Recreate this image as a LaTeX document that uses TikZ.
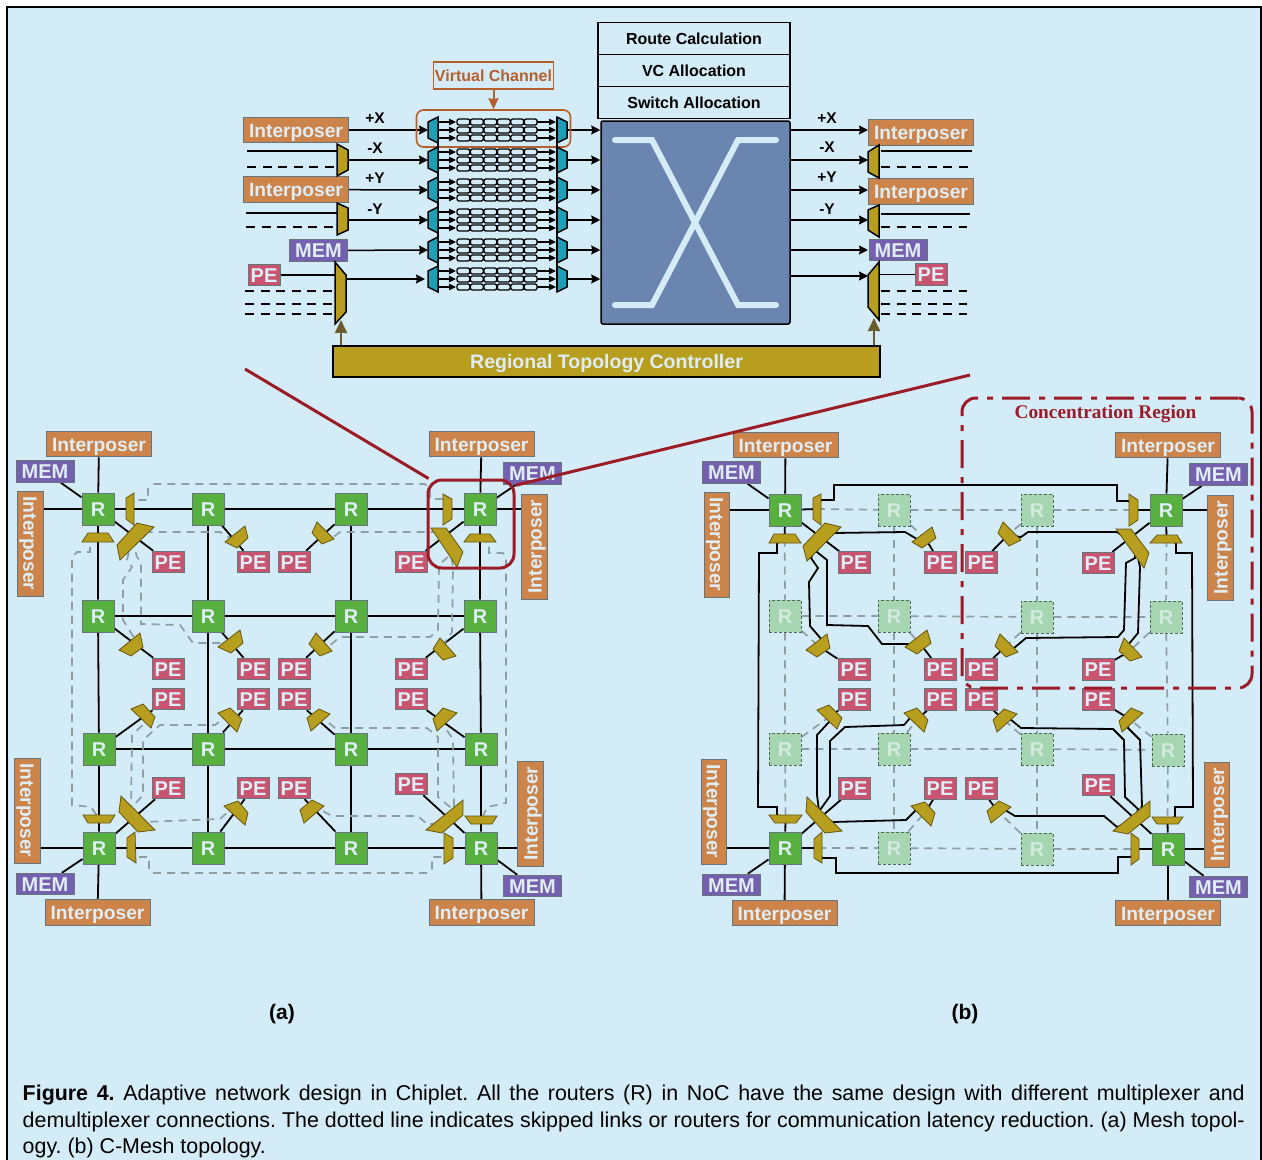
\documentclass[tikz,border=0pt]{standalone}
\usepackage{fontspec}
\setmainfont{Liberation Sans}
\newfontfamily\regionfont{Liberation Serif}
\usetikzlibrary{arrows.meta,backgrounds,calc}
\definecolor{panelbg}{HTML}{D4EBF8}
\definecolor{tagtext}{HTML}{DFEEF6}
\definecolor{ipfill}{HTML}{CD844A}
\definecolor{memfill}{HTML}{7460AE}
\definecolor{pefill}{HTML}{C95470}
\definecolor{rfill}{HTML}{57B040}
\definecolor{ghostfill}{HTML}{A6D5B2}
\definecolor{ghosttext}{HTML}{D3EBDD}
\definecolor{ghostedge}{HTML}{4F6B58}
\definecolor{muxfill}{HTML}{B89E1E}
\definecolor{vcfill}{HTML}{1F9FB5}
\definecolor{xbarfill}{HTML}{6A86B0}
\definecolor{vcline}{HTML}{B5602A}
\definecolor{tagedge}{HTML}{66757C}
\definecolor{skipgray}{HTML}{8F9DA5}
\definecolor{redline}{HTML}{9B1C26}
\definecolor{ctrlarrow}{HTML}{6C5B2A}
\begin{document}
\begin{tikzpicture}[x=1pt, y=-1pt, line width=1.5pt, >={Stealth[length=9pt,width=9pt,inset=1pt]},
    tagbox/.style={draw=tagedge, line width=1pt, text=tagtext, inner sep=0pt, text height=14.3pt, text depth=0pt, font=\bfseries\fontsize{20}{24}\selectfont},
    ipbox/.style={tagbox, fill=ipfill, minimum width=105pt, minimum height=25.5pt, font=\bfseries\fontsize{19.2}{24}\selectfont},
    membox/.style={tagbox, fill=memfill, minimum width=58pt, minimum height=21.5pt},
    pebox/.style={tagbox, fill=pefill, minimum width=32pt, minimum height=21.5pt},
    routerbox/.style={tagbox, fill=rfill, minimum size=32pt},
    ghostbox/.style={draw=ghostedge, densely dashed, line width=0.9pt, fill=ghostfill, text=ghosttext, inner sep=0pt, minimum size=32pt, text height=14.3pt, text depth=0pt, font=\bfseries\fontsize{20}{24}\selectfont},
    stackbox/.style={draw=black, line width=1.8pt, minimum width=192pt, minimum height=32pt, inner sep=0pt, font=\bfseries\fontsize{16}{18}\selectfont},
    dirlabel/.style={inner sep=0pt, font=\bfseries\fontsize{15.5}{18}\selectfont},
    flow/.style={->, line width=1.5pt},
    vcarrow/.style={-{Stealth[length=7pt,width=6.5pt,inset=0.5pt]}, line width=1.1pt},
    ctrlflow/.style={-{Stealth[length=13pt,width=12pt,inset=0.5pt]}, ctrlarrow, line width=2.5pt},
    stub/.style={line width=1.5pt},
    dashstub/.style={line width=1.5pt, dash pattern=on 9pt off 6.5pt},
    vcmux/.style={draw=black, line width=1.5pt, fill=vcfill},
    topmux/.style={draw=black, line width=1.5pt, fill=muxfill},
    gridmux/.style={draw=black!45!muxfill, line width=0.8pt, fill=muxfill},
    bufcell/.style={draw=black, line width=1.3pt, rounded corners=2pt},
    wire/.style={draw=black, line width=1.8pt},
    skipped/.style={draw=skipgray, line width=1.7pt, dash pattern=on 8pt off 6pt},
    zoomline/.style={draw=redline, line width=3pt},
    capline/.style={anchor=west, inner sep=0pt, font=\frenchspacing\fontsize{21.4}{25}\selectfont}]
  \useasboundingbox (0,0) rectangle (1262,1160);
  \begin{scope}[on background layer]
    \draw[fill=panelbg, line width=1.5pt] (7,7) rectangle (1261,1180);
  \end{scope}

  \node[stackbox] (routeCalc) at (694,38.5) {Route Calculation};
  \node[stackbox] (vcAlloc) at (694,70.5) {VC Allocation};
  \node[stackbox] (swAlloc) at (694,102.5) {Switch Allocation};
  \node[draw=black, line width=1.5pt, fill=xbarfill, rounded corners=2pt, minimum width=189pt, minimum height=203pt] (xbar) at (695.5,222.5) {};
  \draw[panelbg, line width=6pt, line cap=round] (615,140) -- (652,140) -- (738,305) -- (776,305);
  \draw[panelbg, line width=6pt, line cap=round] (615,305) -- (652,305) -- (738,140) -- (776,140);

  \node[draw=vcline, line width=1.6pt, inner sep=0pt, minimum width=120pt, minimum height=27pt, text=vcline, font=\bfseries\fontsize{16}{18}\selectfont] (vcLabel) at (493.5,75.5) {Virtual Channel};
  \node[draw=vcline, line width=1.6pt, rounded corners=7pt, minimum width=154pt, minimum height=37pt] (vcBox) at (493.5,128.5) {};
  \draw[-{Stealth[length=11pt,width=10pt,inset=1pt]}, vcline, line width=2pt] (vcLabel) -- (vcBox);

  \draw[line width=1.2pt] (438,117) -- (438,292);
  \draw[line width=1.2pt] (557,117) -- (557,292);
  \foreach \row/\y in {1/130,2/160,3/190,4/220,5/250,6/279} {
    \coordinate (vcl\row) at (428,\y);
    \coordinate (vcr\row) at (567,\y);
    \draw[vcmux] (428,\y-8) -- (438,\y-13) -- (438,\y+13) -- (428,\y+8) -- cycle;
    \draw[vcmux] (557,\y-13) -- (567,\y-8) -- (567,\y+8) -- (557,\y+13) -- cycle;
    \foreach \d in {-8,0,8} {
      \draw[vcarrow] (438,\y+\d) -- (456,\y+\d);
      \draw[vcarrow] (537,\y+\d) -- (556,\y+\d);
      \foreach \c in {0,...,5}
        \draw[bufcell] ({457+13.45*\c},{\y+\d-3}) rectangle ++(12.8,6);
    }
  }

  \node[ipbox] (ipL1) at (296,130) {Interposer};
  \node[ipbox] (ipL2) at (296,189.5) {Interposer};
  \node[membox] (memL) at (318.5,250.5) {MEM};
  \node[pebox] (peL) at (264,275) {PE};
  \node[ipbox] (ipR1) at (921,132.5) {Interposer};
  \node[ipbox] (ipR2) at (921,191.5) {Interposer};
  \node[membox] (memR) at (898,250) {MEM};
  \node[pebox] (peR) at (931,274.5) {PE};
  \node[draw=black, line width=1.8pt, fill=muxfill, text=tagtext, inner sep=0pt, minimum width=547pt, minimum height=31pt, text height=14pt, text depth=0pt, font=\bfseries\fontsize{19.5}{22}\selectfont] (ctrl) at (606.5,361.5) {Regional Topology Controller};

  \foreach \name/\x/\y/\txt in {lxa/375/118/+X, lxb/375/148/-X, lya/375/178/+Y, lyb/375/209/-Y, rxa/827/118/+X, rxb/827/147/-X, rya/827/177/+Y, ryb/827/209/-Y}
    \node[dirlabel] (\name) at (\x,\y) {\txt};

  \foreach \xa/\xb/\y in {247/337/151, 246/337/213, 881/972/151, 881/970/214}
    \draw[stub] (\xa,\y) -- (\xb,\y);
  \foreach \xa/\xb/\y in {247/335/167, 246/335/227, 245/332/291, 245/332/304, 245/332/314, 881/968/167, 881/967/227, 881/967/291, 881/967/304, 881/967/314}
    \draw[dashstub] (\xa,\y) -- (\xb,\y);

  \foreach \m/\ptA/\ptB/\ptC/\ptD in {
    muxL2/{337,144}/{348,150}/{348,170}/{337,176},
    muxL4/{337,203}/{348,208}/{348,230}/{337,235},
    muxL6/{335,262}/{346,275}/{346,312}/{335,324},
    muxR2/{879,145}/{868,152}/{868,172}/{879,178},
    muxR4/{879,205}/{868,210}/{868,230}/{879,237},
    muxR6/{879,262}/{868,275}/{868,307}/{879,320}} {
    \draw[topmux] (\ptA) -- (\ptB) -- (\ptC) -- (\ptD) -- cycle;
    \coordinate (\m) at ($($(\ptA)!.5!(\ptC)$)!.5!($(\ptB)!.5!(\ptD)$)$);
  }
  \coordinate (ctrlTipL) at (341,320);
  \coordinate (ctrlTipR) at (874,318);
  \draw[ctrlflow] (ctrl.north -| ctrlTipL) -- (ctrlTipL);
  \draw[ctrlflow] (ctrl.north -| ctrlTipR) -- (ctrlTipR);

  \foreach \k/\x/\y in {11/98/509, 12/208/509, 13/351/509, 14/480/509,
      21/98/616, 22/208/616, 23/351/616, 24/480/616,
      31/99/749, 32/208/749, 33/351/749, 34/481/749,
      41/99/848, 42/208/848, 43/351/848, 44/481/848}
    \node[routerbox] (a\k) at (\x,\y) {R};
  \foreach \k/\x/\y in {11/168/562, 12/253/562, 13/294/562, 14/411/562,
      21/168/669, 22/253/669, 23/294/669, 24/411/669,
      31/168/699, 32/253/699, 33/294/699, 34/411/699,
      41/168/788, 42/253/788, 43/294/788, 44/411/784}
    \node[pebox] (pa\k) at (\x,\y) {PE};
  \node[ipbox] (ipaT1) at (99,444) {Interposer};
  \node[ipbox] (ipaT4) at (481.5,444) {Interposer};
  \node[ipbox] (ipaB1) at (97.5,912.5) {Interposer};
  \node[ipbox] (ipaB4) at (481.5,912.5) {Interposer};
  \node[ipbox, rotate=-90] (ipaL1) at (30.5,543.5) {Interposer};
  \node[ipbox, rotate=90] (ipaR1) at (534.5,546.5) {Interposer};
  \node[ipbox, rotate=-90] (ipaL4) at (27.5,810.5) {Interposer};
  \node[ipbox, rotate=90] (ipaR4) at (530.5,813.5) {Interposer};
  \node[membox] (mema1) at (45,471.5) {MEM};
  \node[membox] (mema4) at (532.5,473.5) {MEM};
  \node[membox] (mema5) at (45,884) {MEM};
  \node[membox] (mema8) at (532.5,886) {MEM};

  \foreach \k/\x/\y in {11/785/510, 14/1166/510, 41/785/848, 44/1168/849}
    \node[routerbox] (b\k) at (\x,\y) {R};
  \foreach \k/\x/\y in {12/894/510, 13/1037/510,
      21/785/616, 22/894/616, 23/1037/617, 24/1166/617,
      31/785/749, 32/894/749, 33/1037/749, 34/1168/750,
      42/894/848, 43/1037/849}
    \node[ghostbox] (b\k) at (\x,\y) {R};
  \foreach \k/\x/\y in {11/854/562.5, 12/940/562.5, 13/981/562.5, 14/1098/563,
      21/854/669.5, 22/940/669.5, 23/981/669.5, 24/1098/669.5,
      31/854/699.5, 32/940/699.5, 33/981/699.5, 34/1098/699.5,
      41/854/788.5, 42/940/788.5, 43/981/788.5, 44/1098/785}
    \node[pebox] (pb\k) at (\x,\y) {PE};
  \node[ipbox] (ipbT1) at (785.5,445) {Interposer};
  \node[ipbox] (ipbT4) at (1168,445) {Interposer};
  \node[ipbox] (ipbB1) at (784.5,913) {Interposer};
  \node[ipbox] (ipbB4) at (1168,913) {Interposer};
  \node[ipbox, rotate=-90] (ipbL1) at (717,544.5) {Interposer};
  \node[ipbox, rotate=90] (ipbR1) at (1220.5,547.5) {Interposer};
  \node[ipbox, rotate=-90] (ipbL4) at (714,811.5) {Interposer};
  \node[ipbox, rotate=90] (ipbR4) at (1217,814.5) {Interposer};
  \node[membox] (memb1) at (731.5,472.5) {MEM};
  \node[membox] (memb4) at (1218.5,474.5) {MEM};
  \node[membox] (memb5) at (731.5,885) {MEM};
  \node[membox] (memb8) at (1218.5,887) {MEM};

  \foreach \m/\ptA/\ptB/\ptC/\ptD in {
    ma11v/{126,498}/{134,493}/{134,525}/{126,519},
    ma11h/{82,542}/{88,533}/{108,533}/{114,542},
    ma11d/{117,545}/{137,523}/{154,527}/{120,560},
    ma12/{225,542}/{245,526}/{248,538}/{237,548},
    ma13/{317,522}/{334,539}/{322,544}/{312,533},
    ma14v/{443,494}/{452,499}/{452,519}/{443,525},
    ma14h/{464,542}/{470,534}/{490,534}/{496,542},
    ma14d/{431,528}/{446,528}/{463,552}/{457,567},
    ma21/{119,650}/{140,633}/{143,647}/{131,656},
    ma22/{218,647}/{240,630}/{243,643}/{231,653},
    ma23/{316,633}/{332,651}/{320,656}/{309,644},
    ma24/{440,638}/{456,656}/{443,660}/{433,649},
    ma31/{131,709}/{143,704}/{155,717}/{151,728},
    ma32/{218,713}/{230,708}/{242,719}/{237,732},
    ma33/{307,718}/{319,709}/{330,714}/{311,731},
    ma34/{433,719}/{443,708}/{457,713}/{437,731},
    ma41h/{83,815}/{115,815}/{110,823}/{88,823},
    ma41d/{121,796}/{155,830}/{138,832}/{119,812},
    ma41v/{127,838}/{135,832}/{136,863}/{127,857},
    ma42/{224,806}/{238,801}/{248,813}/{245,825},
    ma43/{300,810}/{312,800}/{324,806}/{304,823},
    ma44d/{426,830}/{463,800}/{463,815}/{442,833},
    ma44v/{444,833}/{453,838}/{453,858}/{444,864},
    ma44h/{465,816}/{497,816}/{492,824}/{471,824},
    mb11v/{813,498}/{821,494}/{821,525}/{813,519},
    mb11h/{769,543}/{774,534}/{795,534}/{801,543},
    mb11d/{803,546}/{825,523}/{841,527}/{807,561},
    mb12/{912,542}/{932,527}/{936,538}/{922,548},
    mb13/{1003,522}/{1021,540}/{1009,546}/{998,533},
    mb14v/{1129,494}/{1138,500}/{1138,520}/{1129,526},
    mb14h/{1150,543}/{1157,535}/{1177,535}/{1182,543},
    mb14d/{1116,529}/{1131,529}/{1149,553}/{1144,568},
    mb21/{806,650}/{827,634}/{830,648}/{817,657},
    mb22/{905,647}/{927,630}/{931,643}/{917,654},
    mb23/{1000,634}/{1018,652}/{1006,657}/{995,646},
    mb24/{1124,638}/{1142,657}/{1130,661}/{1119,651},
    mb31/{817,710}/{829,705}/{842,718}/{837,729},
    mb32/{904,713}/{917,708}/{928,720}/{924,732},
    mb33/{993,720}/{1004,709}/{1017,714}/{997,732},
    mb34/{1119,721}/{1131,708}/{1143,713}/{1122,732},
    mb41h/{769,815}/{802,815}/{796,823}/{775,823},
    mb41d/{807,797}/{842,831}/{825,833}/{806,812},
    mb41v/{814,839}/{822,832}/{822,863}/{814,858},
    mb42/{911,806}/{925,802}/{935,813}/{931,826},
    mb43/{987,811}/{999,801}/{1011,807}/{991,823},
    mb44d/{1113,831}/{1150,801}/{1150,816}/{1128,834},
    mb44v/{1131,833}/{1139,839}/{1139,859}/{1131,865},
    mb44h/{1152,817}/{1183,817}/{1178,824}/{1157,824}} {
    \draw[gridmux] (\ptA) -- (\ptB) -- (\ptC) -- (\ptD) -- cycle;
    \coordinate (\m) at ($($(\ptA)!.5!(\ptC)$)!.5!($(\ptB)!.5!(\ptD)$)$);
  }

  \begin{scope}[on background layer]
    \draw[flow] (ipL1) -- (vcl1);
    \draw[flow] (ipL2) -- (vcl3);
    \draw[flow] (memL) -- (vcl5);
    \draw[flow] (vcl2 -| muxL2) -- (vcl2);
    \draw[flow] (vcl4 -| muxL4) -- (vcl4);
    \draw[flow, shorten >=3pt] (vcl6 -| muxL6) -- (vcl6);
    \draw[stub] (peL) -- (peL -| muxL6);
    \draw[stub] (peR) -- (peR -| muxR6);
    \foreach \row in {1,...,6}
      \draw[flow] (vcr\row) -- (vcr\row -| xbar.west);
    \foreach \row/\y in {1/130,2/160,3/190,4/220,5/250,6/276} {
      \coordinate (xbo\row) at (790,\y);
      \draw[flow] (xbo\row) -- (xbo\row -| ipR1.west);
    }

    \foreach \col in {1,...,4} {
      \draw[wire] (a1\col) -- (a2\col) -- (a3\col) -- (a4\col);
      \draw[wire] (a\col1) -- (a\col2) -- (a\col3) -- (a\col4);
    }
    \foreach \k in {11,12,13,14,21,22,23,24,31,32,33,34,41,42,43,44}
      \draw[wire] (a\k) -- (pa\k);
    \draw[wire] (a11) -- (ipaT1);
    \draw[wire] (a14) -- (ipaT4);
    \draw[wire] (a41) -- (ipaB1);
    \draw[wire] (a44) -- (ipaB4);
    \draw[wire] (a11) -- (a11 -| ipaL1.north);
    \draw[wire] (a14) -- (a14 -| ipaR1.north);
    \draw[wire] (a41) -- (a41 -| ipaL4.north);
    \draw[wire] (a44) -- (a44 -| ipaR4.north);
    \draw[wire] (a11) -- (mema1);
    \draw[wire] (a14) -- (mema4);
    \draw[wire] (a41) -- (mema5);
    \draw[wire] (a44) -- (mema8);

    \draw[skipped] (ma11v) -- (134,500) -- (148,500) -- (148,489) -- (153,484) -- (425,484) -- (430,489) -- (430,499) -- (443,499) -- (ma14v);
    \draw[skipped] (ma11d) -- (147,532) -- (220,532) -- (230,538) -- (ma12);
    \draw[skipped] (ma13) -- (332,538) -- (340,532) -- (435,532) -- (ma14d);
    \draw[skipped] (ma11h) -- (90,542) -- (90,552) -- (77,552) -- (72,557) -- (72,805) -- (91,807) -- (ma41h);
    \draw[skipped] (ma11d) -- (127,560) -- (132,567) -- (123,580) -- (123,620) -- (133,636) -- (ma21);
    \draw[skipped] (ma11d) -- (137,557) -- (141,562) -- (141,624) -- (180,625) -- (193,643) -- (223,643) -- (ma22);
    \draw[skipped] (ma14h) -- (489,543) -- (489,553) -- (503,553) -- (506,557) -- (506,803) -- (487,807) -- (ma44h);
    \draw[skipped] (ma14d) -- (453,567) -- (452,632) -- (445,642) -- (ma24);
    \draw[skipped] (ma14d) -- (450,555) -- (439,565) -- (438,630) -- (430,637) -- (340,637) -- (328,647) -- (ma23);
    \draw[skipped] (ma31) -- (148,720) -- (132,735) -- (131,808) -- (ma41d);
    \draw[skipped] (ma32) -- (223,719) -- (215,725) -- (160,725) -- (143,740) -- (143,795) -- (135,804) -- (ma41d);
    \draw[skipped] (ma42) -- (230,810) -- (220,819) -- (143,822) -- (ma41d);
    \draw[skipped] (ma41v) -- (135,857) -- (149,857) -- (149,869) -- (153,873) -- (428,873) -- (432,869) -- (432,857) -- (445,857) -- (ma44v);
    \draw[skipped] (ma33) -- (323,718) -- (335,728) -- (427,728) -- (438,737) -- (438,797) -- (450,807) -- (ma44d);
    \draw[skipped] (ma34) -- (443,725) -- (453,739) -- (454,805) -- (ma44d);
    \draw[skipped] (ma43) -- (317,808) -- (332,816) -- (418,816) -- (428,825) -- (ma44d);

    \draw[skipped] (mb11v) -- (b12) -- (b13) -- (mb14v);
    \draw[skipped] (b21) -- (b22) -- (b23) -- (b24);
    \draw[skipped] (b31) -- (b32) -- (b33) -- (b34);
    \draw[skipped] (mb41v) -- (b42) -- (b43) -- (mb44v);
    \draw[skipped] (mb11h) -- (b21) -- (b31) -- (mb41h);
    \draw[skipped] (b12) -- (b22) -- (b32) -- (b42);
    \draw[skipped] (b13) -- (b23) -- (b33) -- (b43);
    \draw[skipped] (mb14h) -- (b24) -- (b34) -- (mb44h);
    \foreach \k in {12,13,21,22,23,24,31,32,33,34,42,43} {
      \draw[skipped] (b\k) -- (mb\k);
      \draw[wire] (mb\k) -- (pb\k);
    }
    \foreach \k in {11,14,41,44} {
      \draw[wire] (b\k) -- (pb\k);
      \draw[wire] (b\k) -- (mb\k v);
      \draw[wire] (b\k) -- (mb\k h);
    }
    \draw[wire] (b11) -- (ipbT1);
    \draw[wire] (b14) -- (ipbT4);
    \draw[wire] (b41) -- (ipbB1);
    \draw[wire] (b44) -- (ipbB4);
    \draw[wire] (b11) -- (b11 -| ipbL1.north);
    \draw[wire] (b14) -- (b14 -| ipbR1.north);
    \draw[wire] (b41) -- (b41 -| ipbL4.north);
    \draw[wire] (b44) -- (b44 -| ipbR4.north);
    \draw[wire] (b11) -- (memb1);
    \draw[wire] (b14) -- (memb4);
    \draw[wire] (b41) -- (memb5);
    \draw[wire] (b44) -- (memb8);

    \draw[wire] (mb11v) -- (821,500) -- (834,500) -- (834,485) -- (1117,485) -- (1117,501) -- (1129,501) -- (mb14v);
    \draw[wire] (mb11d) -- (833,533) -- (905,532) -- (917,539) -- (mb12);
    \draw[wire] (mb13) -- (1021,537) -- (1028,532) -- (1117,532) -- (mb14d);
    \draw[wire] (mb11h) -- (777,543) -- (777,553) -- (759,553) -- (758,807) -- (777,807) -- (777,815) -- (mb41h);
    \draw[wire] (mb11d) -- (811,558) -- (818,568) -- (809,582) -- (810,626) -- (822,640) -- (mb21);
    \draw[wire] (mb11d) -- (817,552) -- (827,560) -- (827,625) -- (868,626) -- (882,644) -- (913,644) -- (mb22);
    \draw[wire] (mb14h) -- (1176,543) -- (1176,553) -- (1192,553) -- (1193,807) -- (1175,807) -- (1175,817) -- (mb44h);
    \draw[wire] (mb14d) -- (1140,567) -- (1138,633) -- (1128,645) -- (mb24);
    \draw[wire] (mb14d) -- (1135,558) -- (1126,563) -- (1124,630) -- (1118,637) -- (1026,638) -- (1014,648) -- (mb23);
    \draw[wire] (mb31) -- (829,722) -- (817,735) -- (817,795) -- (mb41d);
    \draw[wire] (mb32) -- (910,718) -- (904,725) -- (845,727) -- (830,741) -- (830,796) -- (820,810) -- (mb41d);
    \draw[wire] (mb42) -- (920,806) -- (906,820) -- (833,822) -- (mb41d);
    \draw[wire] (mb41v) -- (822,858) -- (836,858) -- (836,873) -- (1118,873) -- (1118,857) -- (1131,857) -- (mb44v);
    \draw[wire] (mb33) -- (1010,719) -- (1021,728) -- (1113,729) -- (1124,740) -- (1125,797) -- (1138,809) -- (mb44d);
    \draw[wire] (mb34) -- (1128,728) -- (1140,740) -- (1142,806) -- (mb44d);
    \draw[wire] (mb43) -- (1005,810) -- (1015,816) -- (1104,816) -- (1117,827) -- (mb44d);
  \end{scope}

  \node[draw=redline, line width=3pt, rounded corners=14pt, minimum width=86pt, minimum height=88pt] (zoomBox) at (471,524) {};
  \coordinate (farL) at (245,369);
  \coordinate (farR) at (970,375);
  \draw[zoomline] (farL) -- (zoomBox.133);
  \draw[zoomline] (farR) -- (zoomBox.41);
  \node[draw=redline, line width=3pt, rounded corners=14pt, dash pattern=on 28pt off 9pt on 6pt off 9pt, minimum width=290pt, minimum height=290pt] (region) at (1107,543) {};
  \node[text=redline, inner sep=0pt, font=\regionfont\bfseries\fontsize{19.3}{22}\selectfont] (regionLabel) at (1105.5,414) {Concentration Region};

  \node[inner sep=0pt, font=\bfseries\fontsize{21}{25}\selectfont] (capa) at (282,1014.5) {(a)};
  \node[inner sep=0pt, font=\bfseries\fontsize{21}{25}\selectfont] (capb) at (965,1014.5) {(b)};
  \node[capline] (capOne) at (22,1095) {\hbox to 1222pt{\textbf{Figure 4.} Adaptive network design in Chiplet. All the routers (R) in NoC have the same design with different multiplexer and}};
  \node[capline] (capTwo) at (22,1121.5) {\hbox to 1222pt{demultiplexer connections. The dotted line indicates skipped links or routers for communication latency reduction. (a) Mesh topol-}};
  \node[capline] (capThree) at (22,1148) {ogy. (b) C-Mesh topology.};
\end{tikzpicture}
\end{document}
